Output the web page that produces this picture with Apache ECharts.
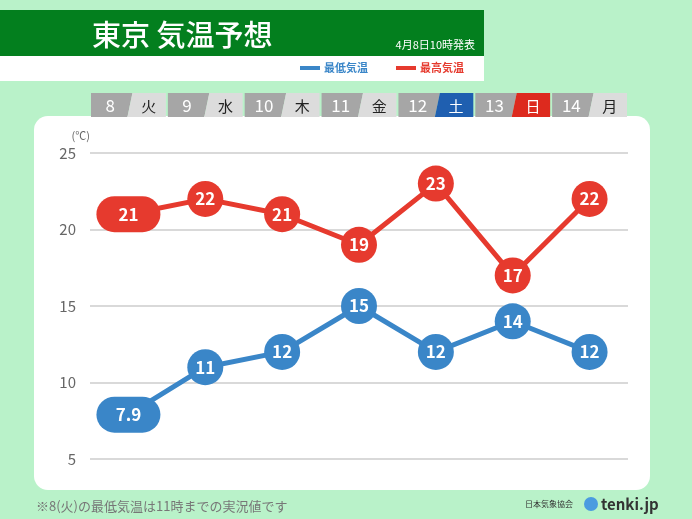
<!DOCTYPE html>
<html><head><meta charset="utf-8">
<script src="https://cdn.jsdelivr.net/npm/echarts@6/dist/echarts.min.js"></script>
<style>html,body{margin:0;padding:0;background:#b9f2c9;}#main{width:692px;height:519px;}</style>
</head><body><div id="main"></div>
<script>
var dates = ['8', '9', '10', '11', '12', '13', '14'];
var days = ['火', '水', '木', '金', '土', '日', '月'];
var lowTemps = [7.9, 11, 12, 15, 12, 14, 12];
var highTemps = [21, 22, 21, 19, 23, 17, 22];
var lowLabels = ['7.9', '11', '12', '15', '12', '14', '12'];

var FONT = '"Noto Sans CJK JP", "Noto Sans", sans-serif';
var BLUE = '#3a86c8', RED = '#e63a2e';
var PILL = 'path://M18,0 H46 A18,18 0 0 1 46,36 H18 A18,18 0 0 1 18,0 Z';

var chart = echarts.init(document.getElementById('main'));

var mkData = vals => vals.map((v, i) => {
    if (i === 0) return {value: v, symbol: PILL, symbolSize: [64, 36]};
    return v;
});

var option = {
    backgroundColor: '#b9f2c9',
    animation: false,
    textStyle: {fontFamily: FONT},
    grid: {left: 90, right: 64, top: 153, bottom: 60},
    xAxis: {
        type: 'category', data: dates,
        axisLine: {show: false}, axisTick: {show: false}, axisLabel: {show: false}
    },
    yAxis: {
        type: 'value', min: 5, max: 25, interval: 5,
        name: '(℃)', nameLocation: 'end', nameGap: 12,
        nameTextStyle: {color: '#666', fontSize: 11, align: 'right'},
        axisLabel: {color: '#666', fontSize: 15, margin: 14},
        splitLine: {lineStyle: {color: '#cccccc', width: 1.5}}
    },
    series: [
        {
            name: '最高気温', type: 'line', data: mkData(highTemps),
            symbol: 'circle', symbolSize: 36,
            lineStyle: {color: RED, width: 5}, itemStyle: {color: RED},
            label: {show: true, position: 'inside', color: '#fff', fontSize: 17, fontWeight: 'bold'}
        },
        {
            name: '最低気温', type: 'line', data: mkData(lowTemps),
            symbol: 'circle', symbolSize: 36,
            lineStyle: {color: BLUE, width: 5}, itemStyle: {color: BLUE},
            label: {show: true, position: 'inside', color: '#fff', fontSize: 17, fontWeight: 'bold',
                formatter: p => lowLabels[p.dataIndex]}
        }
    ]
};
chart.setOption(option);

// decorations: header, tabs, panel
var g = [];
g.push({type: 'rect', z: -10, shape: {x: 34, y: 116, width: 616, height: 374, r: 14}, style: {fill: '#fff'}});
g.push({type: 'rect', shape: {x: 0, y: 10, width: 484, height: 46}, style: {fill: '#037f1e'}});
g.push({type: 'rect', shape: {x: 0, y: 56, width: 484, height: 25}, style: {fill: '#fff'}});
g.push({type: 'text', style: {x: 92, y: 35, text: '東京 気温予想', fill: '#fff', font: '500 29px ' + FONT, verticalAlign: 'middle'}});
g.push({type: 'text', style: {x: 475, y: 45, text: '4月8日10時発表', fill: '#fff', font: '11px ' + FONT, align: 'right', verticalAlign: 'middle'}});
g.push({type: 'rect', shape: {x: 300, y: 66, width: 20, height: 4}, style: {fill: BLUE}});
g.push({type: 'text', style: {x: 324, y: 68, text: '最低気温', fill: BLUE, font: 'bold 11px ' + FONT, verticalAlign: 'middle'}});
g.push({type: 'rect', shape: {x: 396, y: 66, width: 20, height: 4}, style: {fill: RED}});
g.push({type: 'text', style: {x: 420, y: 68, text: '最高気温', fill: RED, font: 'bold 11px ' + FONT, verticalAlign: 'middle'}});

var x0 = chart.convertToPixel({xAxisIndex: 0}, dates[0]);
var x1 = chart.convertToPixel({xAxisIndex: 0}, dates[1]);
var w = x1 - x0;
dates.forEach((d, i) => {
    var cx = chart.convertToPixel({xAxisIndex: 0}, d);
    var left = cx - w / 2 + 1;
    var dayFill = days[i] === '土' ? '#1f5fb0' : days[i] === '日' ? '#dd2a1e' : '#dcdcdc';
    var dayText = (days[i] === '土' || days[i] === '日') ? '#fff' : '#222';
    g.push({type: 'polygon', shape: {points: [[left, 93], [left + w / 2 + 3, 93], [left + w / 2 - 2, 117], [left, 117]]}, style: {fill: '#a6a6a6'}});
    g.push({type: 'polygon', shape: {points: [[left + w / 2 + 3, 93], [left + w - 2, 93], [left + w - 2, 117], [left + w / 2 - 2, 117]]}, style: {fill: dayFill}});
    g.push({type: 'text', style: {x: left + w / 4, y: 106, text: d, fill: '#fff', font: '17px ' + FONT, align: 'center', verticalAlign: 'middle'}});
    g.push({type: 'text', style: {x: left + w * 3 / 4, y: 106, text: days[i], fill: dayText, font: '15px ' + FONT, align: 'center', verticalAlign: 'middle'}});
});
g.push({type: 'text', style: {x: 36, y: 506, text: '※8(火)の最低気温は11時までの実況値です', fill: '#777', font: '13px ' + FONT, verticalAlign: 'middle'}});
g.push({type: 'text', style: {x: 525, y: 504, text: '日本気象協会', fill: '#333', font: '8px ' + FONT, verticalAlign: 'middle'}});
g.push({type: 'circle', shape: {cx: 591, cy: 504, r: 7}, style: {fill: '#4a9be0'}});
g.push({type: 'text', style: {x: 601, y: 504, text: 'tenki.jp', fill: '#333', font: 'bold 15px ' + FONT, verticalAlign: 'middle'}});
chart.setOption({graphic: g});
</script></body></html>
